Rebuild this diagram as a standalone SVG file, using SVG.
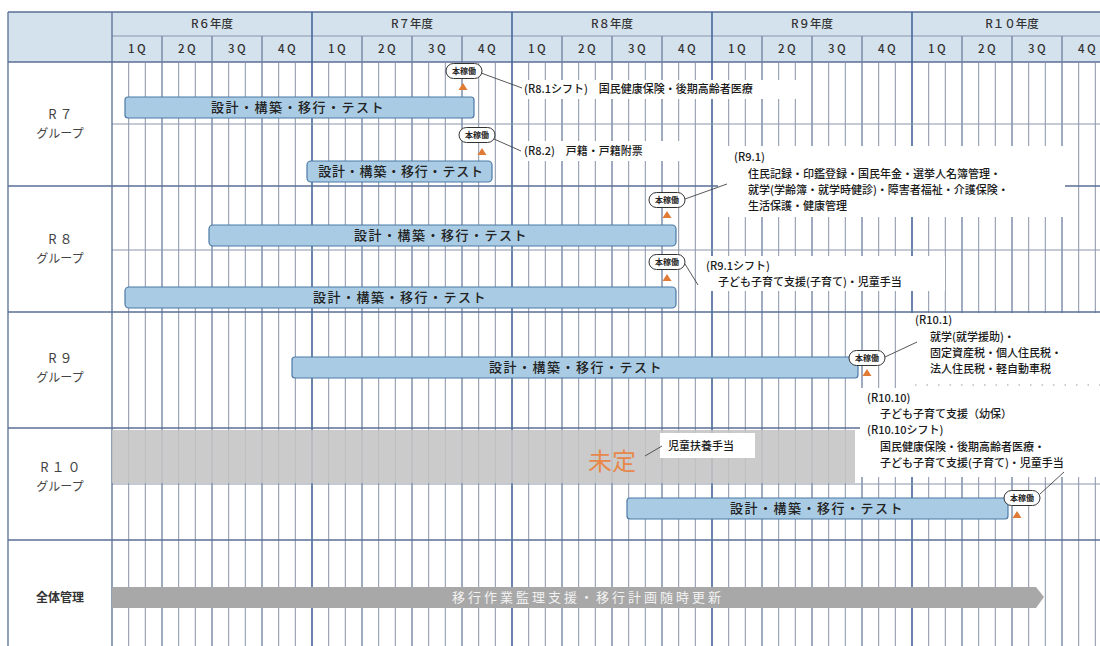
<svg xmlns="http://www.w3.org/2000/svg" width="1100" height="646" viewBox="0 0 1100 646">
<style>
text{font-family:"Noto Sans CJK JP","Noto Sans",sans-serif}
.hdr{fill:#d4e2ee}
.gm{stroke:#8893a6;stroke-width:1;fill:none}
.gq{stroke:#6d7f9e;stroke-width:1.3;fill:none}
.gy{stroke:#46679a;stroke-width:1.6;fill:none}
.row{stroke:#5a6f96;stroke-width:1.3;fill:none}
.sub{stroke:#8a96ab;stroke-width:1;fill:none}
.bar{fill:#a9cbe3;stroke:#4b7aa6;stroke-width:1.2}
.bt{font-size:13px;font-weight:500;fill:#222;text-anchor:middle;letter-spacing:1.5px}
.badge{fill:#fff;stroke:#333;stroke-width:1}
.bdt{font-size:8px;font-weight:bold;fill:#222;text-anchor:middle}
.tri{fill:#e07a35}
.co{fill:#fff}
.ct{font-size:11px;font-weight:500;fill:#1a1a1a}
.lead{stroke:#444;stroke-width:0.9;fill:none}
.ht{font-size:11.5px;font-weight:500;fill:#333;text-anchor:middle}
.qt{font-size:11.5px;font-weight:500;fill:#333;text-anchor:middle;letter-spacing:2.5px}
.lt{font-size:13px;fill:#444;text-anchor:middle;letter-spacing:3px}
.lg{font-size:12px;fill:#444;text-anchor:middle}
</style>
<defs>
<g id="badgeShape">
<rect class="badge" x="-18" y="-7.5" width="36" height="15" rx="7.5"/>
<text class="bdt" x="0" y="3">本稼働</text>
</g>
<path id="triShape" class="tri" d="M0,0 L4.5,7 L-4.5,7 Z"/>
</defs>
<rect width="1100" height="646" fill="#fff"/>
<g id="header">
<rect class="hdr" x="8" y="12" width="1092" height="50"/>
<path class="row" d="M8,12 H1100 M8,62 H1100"/>
<path class="sub" d="M112,36 H1100"/>
<path class="gq" d="M162,36V62 M212,36V62 M262,36V62 M362,36V62 M412,36V62 M462,36V62 M562,36V62 M612,36V62 M662,36V62 M762,36V62 M812,36V62 M862,36V62 M962,36V62 M1012,36V62 M1062,36V62"/>
<path class="gy" d="M312,12V62 M512,12V62 M712,12V62 M912,12V62"/>
<text class="ht" x="212" y="28">R６年度</text>
<text class="ht" x="412" y="28">R７年度</text>
<text class="ht" x="612" y="28">R８年度</text>
<text class="ht" x="812" y="28">R９年度</text>
<text class="ht" x="1012" y="28">R１０年度</text>
<g class="qtg">
<text class="qt" x="138" y="53">1Q</text><text class="qt" x="188" y="53">2Q</text><text class="qt" x="238" y="53">3Q</text><text class="qt" x="288" y="53">4Q</text>
<text class="qt" x="338" y="53">1Q</text><text class="qt" x="388" y="53">2Q</text><text class="qt" x="438" y="53">3Q</text><text class="qt" x="488" y="53">4Q</text>
<text class="qt" x="538" y="53">1Q</text><text class="qt" x="588" y="53">2Q</text><text class="qt" x="638" y="53">3Q</text><text class="qt" x="688" y="53">4Q</text>
<text class="qt" x="738" y="53">1Q</text><text class="qt" x="788" y="53">2Q</text><text class="qt" x="838" y="53">3Q</text><text class="qt" x="888" y="53">4Q</text>
<text class="qt" x="938" y="53">1Q</text><text class="qt" x="988" y="53">2Q</text><text class="qt" x="1038" y="53">3Q</text><text class="qt" x="1088" y="53">4Q</text>
</g>
</g>
<g id="grid">
<path class="gm" d="M128.7,62V646 M145.3,62V646 M178.7,62V646 M195.3,62V646 M228.7,62V646 M245.3,62V646 M278.7,62V646 M295.3,62V646 M328.7,62V646 M345.3,62V646 M378.7,62V646 M395.3,62V646 M428.7,62V646 M445.3,62V646 M478.7,62V646 M495.3,62V646 M528.7,62V646 M545.3,62V646 M578.7,62V646 M595.3,62V646 M628.7,62V646 M645.3,62V646 M678.7,62V646 M695.3,62V646 M728.7,62V646 M745.3,62V646 M778.7,62V646 M795.3,62V646 M828.7,62V646 M845.3,62V646 M878.7,62V646 M895.3,62V646 M928.7,62V646 M945.3,62V646 M978.7,62V646 M995.3,62V646 M1028.7,62V646 M1045.3,62V646 M1078.7,62V646 M1095.3,62V646"/>
<path class="gq" d="M162,62V646 M212,62V646 M262,62V646 M362,62V646 M412,62V646 M462,62V646 M562,62V646 M612,62V646 M662,62V646 M762,62V646 M812,62V646 M862,62V646 M962,62V646 M1012,62V646 M1062,62V646"/>
<path class="gy" d="M312,62V646 M512,62V646 M712,62V646 M912,62V646"/>
<path class="sub" d="M112,124 H1100 M112,250 H1100 M112,484 H1100"/>
<path class="row" d="M8,186 H1100 M8,312 H1100 M8,428 H1100 M8,540 H1100"/>
<path class="row" d="M8,12 V646 M112,12 V646"/>
</g>
<g id="labels">
<text class="lt" x="62" y="119">R７</text><text class="lg" x="60" y="138">グループ</text>
<text class="lt" x="62" y="244">R８</text><text class="lg" x="60" y="263">グループ</text>
<text class="lt" x="62" y="363">R９</text><text class="lg" x="60" y="382">グループ</text>
<text class="lt" x="62" y="472">R１０</text><text class="lg" x="60" y="491">グループ</text>
<text x="60" y="602" font-size="12" font-weight="bold" fill="#333" text-anchor="middle">全体管理</text>
</g>
<g id="undecided">
<rect x="112" y="430" width="743" height="53" fill="#c4c4c4" fill-opacity="0.88"/>
<text x="612" y="470" font-size="24" fill="#e8874a" text-anchor="middle">未定</text>
</g>
<g id="callout-boxes">
<rect class="co" x="518" y="80" width="290" height="19"/>
<rect class="co" x="518" y="141" width="174" height="20"/>
<rect class="co" x="718" y="146" width="347" height="71"/>
<rect class="co" x="700" y="256" width="245" height="35"/>
<rect class="co" x="905" y="313" width="195" height="75"/>
<rect class="co" x="860" y="388" width="240" height="89"/>
<rect class="co" x="660" y="433" width="95" height="25"/>
<path d="M915,385 H1100" stroke="#999" stroke-width="1.2" stroke-dasharray="1.5 10"/>
</g>
<g id="connectors">
<path class="lead" d="M481,73 L522,88"/>
<path class="lead" d="M494,139 L521,151"/>
<path class="lead" d="M685,199 L727,184"/>
<path class="lead" d="M685,264 L698,285"/>
<path class="lead" d="M885,357 L917,342"/>
<path class="lead" d="M645,456 L662,446"/>
<path class="lead" d="M1040,494 L1064,472"/>
</g>
<g id="bar-r7-1">
<rect class="bar" x="125" y="97" width="349" height="21" rx="3"/>
<text class="bt" x="298" y="112">設計・構築・移行・テスト</text>
<use href="#badgeShape" x="464" y="71"/><use href="#triShape" x="463" y="83"/>
</g>
<g id="bar-r7-2">
<rect class="bar" x="307" y="161" width="185" height="21" rx="4"/>
<text class="bt" x="401" y="176" style="letter-spacing:0.8px">設計・構築・移行・テスト</text>
<use href="#badgeShape" x="477" y="135"/><use href="#triShape" x="482" y="148"/>
</g>
<g id="bar-r8-1">
<rect class="bar" x="209" y="225" width="467" height="21" rx="4"/>
<text class="bt" x="441" y="240">設計・構築・移行・テスト</text>
<use href="#badgeShape" x="667" y="200"/><use href="#triShape" x="667" y="211"/>
</g>
<g id="bar-r8-2">
<rect class="bar" x="125" y="287" width="551" height="21" rx="4"/>
<text class="bt" x="400" y="302">設計・構築・移行・テスト</text>
<use href="#badgeShape" x="667" y="262"/><use href="#triShape" x="667" y="274"/>
</g>
<g id="bar-r9">
<rect class="bar" x="292" y="357" width="566" height="21" rx="3"/>
<text class="bt" x="576" y="372">設計・構築・移行・テスト</text>
<use href="#badgeShape" x="867" y="358"/><use href="#triShape" x="867" y="369"/>
</g>
<g id="bar-r10">
<rect class="bar" x="627" y="498" width="381" height="21" rx="3"/>
<text class="bt" x="817" y="513">設計・構築・移行・テスト</text>
<use href="#badgeShape" x="1022" y="498"/><use href="#triShape" x="1017" y="511"/>
</g>
<g id="bar-all">
<path d="M112,587 H1036 L1044,597 L1036,608 H112 Z" fill="#a8a8a8"/>
<text x="588" y="602" font-size="13" fill="#f2f2f2" text-anchor="middle" letter-spacing="3">移行作業監理支援・移行計画随時更新</text>
</g>
<g id="callout-texts">
<text class="ct" x="524" y="93">(R8.1シフト)　国民健康保険・後期高齢者医療</text>
<text class="ct" x="524" y="155">(R8.2)　戸籍・戸籍附票</text>
<text class="ct" x="734" y="161">(R9.1)</text>
<text class="ct" x="748" y="178">住民記録・印鑑登録・国民年金・選挙人名簿管理・</text>
<text class="ct" x="748" y="194">就学(学齢簿・就学時健診)・障害者福祉・介護保険・</text>
<text class="ct" x="748" y="210">生活保護・健康管理</text>
<text class="ct" x="706" y="270">(R9.1シフト)</text>
<text class="ct" x="718" y="286">子ども子育て支援(子育て)・児童手当</text>
<text class="ct" x="915" y="324">(R10.1)</text>
<text class="ct" x="930" y="341">就学(就学援助)・</text>
<text class="ct" x="930" y="357">固定資産税・個人住民税・</text>
<text class="ct" x="930" y="373">法人住民税・軽自動車税</text>
<text class="ct" x="867" y="402">(R10.10)</text>
<text class="ct" x="880" y="418">子ども子育て支援（幼保）</text>
<text class="ct" x="867" y="434">(R10.10シフト)</text>
<text class="ct" x="880" y="451">国民健康保険・後期高齢者医療・</text>
<text class="ct" x="880" y="467">子ども子育て支援(子育て)・児童手当</text>
<text class="ct" x="668" y="450">児童扶養手当</text>
</g>
</svg>
